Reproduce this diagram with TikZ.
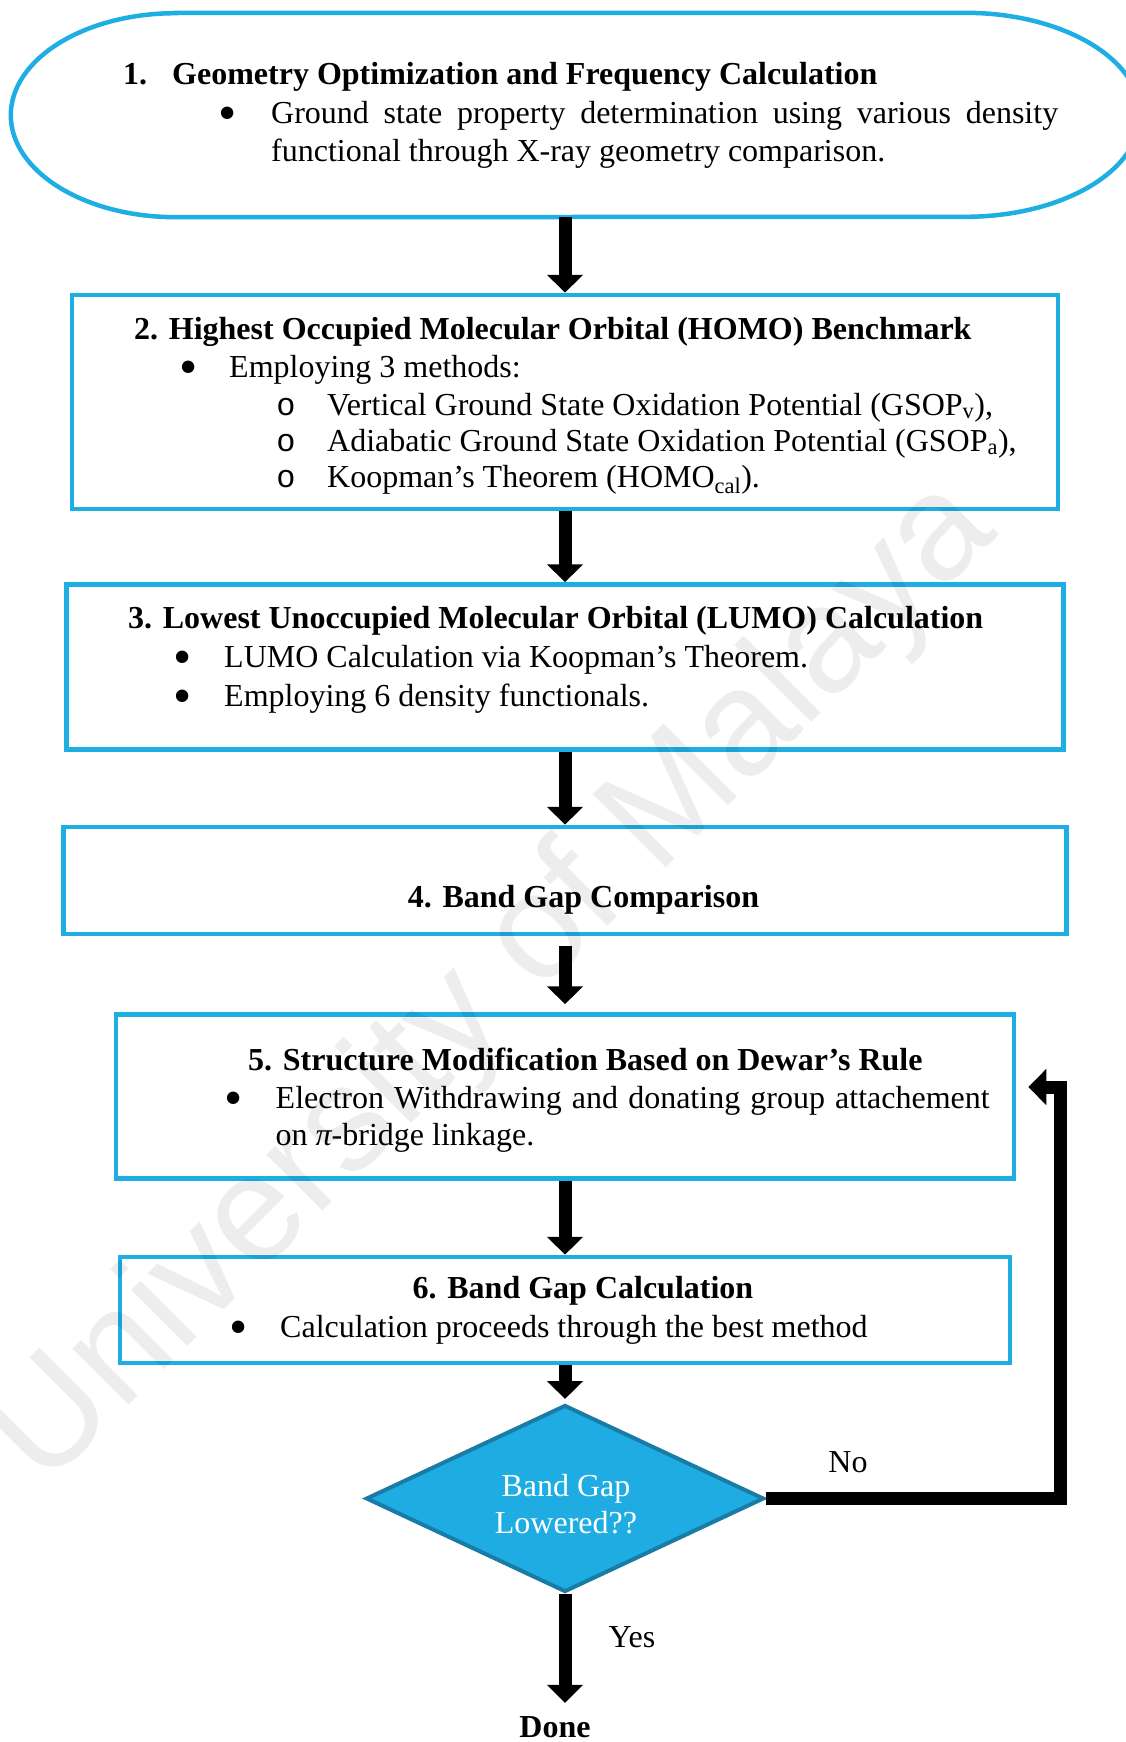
\documentclass[tikz,border=0pt]{standalone}
\usepackage{fontspec}
\setmainfont{Liberation Serif}
\newfontfamily\wmfont{Liberation Sans}
\newfontfamily\ofont{Liberation Mono}
\usetikzlibrary{shapes.geometric,arrows.meta}
\definecolor{boxblue}{RGB}{30,174,228}
\definecolor{diablue}{RGB}{30,172,226}
\definecolor{diaedge}{RGB}{24,124,166}

\begin{document}
\begin{tikzpicture}
    [
    x=1pt, y=-1pt,
    stepbox/.style={rectangle,draw=boxblue,line width=4.5pt,inner sep=0pt},
    outline/.style={draw=boxblue,line width=4.5pt},
    decision/.style={diamond,draw=diaedge,fill=diablue,line width=4pt,inner sep=0pt,aspect=2.13,minimum width=398pt,minimum height=187pt},
    txt/.style={inner sep=0pt,anchor=base west,font=\fontsize{32}{37}\selectfont},
    ttl/.style={txt,font=\fontsize{32}{37}\selectfont\bfseries},
    dot/.style={txt,anchor=base},
    bullet/.style={dot,font=\fontsize{52}{52}\selectfont,yshift=-7pt},
    circ/.style={dot,font=\ofont\fontsize{32}{37}\selectfont},
    flow/.style={line width=13pt,-{Triangle[width=35pt,length=18pt]}}
    ]
    \useasboundingbox (0,0) rectangle (1125,1742);

    \node (step1) at (575.5,115) [inner sep=0pt,minimum width=1129pt,minimum height=204pt] {};
    \draw [outline] ([xshift=165pt]step1.north west) -- ([xshift=-175pt]step1.north east)
        arc [start angle=-90, end angle=90, x radius=175, y radius=102]
        -- ([xshift=165pt]step1.south west)
        arc [start angle=90, end angle=270, x radius=165, y radius=102] -- cycle;
    \node (num1) at (123,85) [ttl] {1.};
    \node (head1) at (172,85) [ttl] {Geometry Optimization and Frequency Calculation};
    \node (dot1) at (228,124) [bullet] {•};
    \node (line1a) at (271,124) [txt] {\makebox[787pt][s]{Ground state property determination using various density}};
    \node (line1b) at (271,161) [txt] {functional through X-ray geometry comparison.};

    \node (step2) at (565,402) [stepbox,minimum width=986pt,minimum height=214pt] {};
    \node (head2) at (134,339) [ttl] {2. Highest Occupied Molecular Orbital (HOMO) Benchmark};
    \node (dot2) at (189,377) [bullet] {•};
    \node (line2a) at (229,377) [txt] {Employing 3 methods:};
    \node (circ2a) at (286,415) [circ] {o};
    \node (line2b) at (327,415) [txt] {Vertical Ground State Oxidation Potential (GSOP\textsubscript{v}),};
    \node (circ2b) at (286,451) [circ] {o};
    \node (line2c) at (327,451) [txt] {Adiabatic Ground State Oxidation Potential (GSOP\textsubscript{a}),};
    \node (circ2c) at (286,487) [circ] {o};
    \node (line2d) at (327,487) [txt] {Koopman’s Theorem (HOMO\textsubscript{cal}).};

    \node (step3) at (565,667) [stepbox,minimum width=997pt,minimum height=165pt] {};
    \node (head3) at (128,628) [ttl] {3. Lowest Unoccupied Molecular Orbital (LUMO) Calculation};
    \node (dot3a) at (183,667) [bullet] {•};
    \node (line3a) at (224,667) [txt] {LUMO Calculation via Koopman’s Theorem.};
    \node (dot3b) at (183,706) [bullet] {•};
    \node (line3b) at (224,706) [txt] {Employing 6 density functionals.};

    \node (step4) at (565,880.5) [stepbox,minimum width=1003pt,minimum height=107pt] {};
    \node (head4) at (583.5,907) [ttl,anchor=base] {4. Band Gap Comparison};

    \node (step5) at (565,1096.5) [stepbox,minimum width=898pt,minimum height=164pt] {};
    \node (head5) at (248,1070) [ttl] {5. Structure Modification Based on Dewar’s Rule};
    \node (dot5) at (233.5,1108) [bullet] {•};
    \node (line5a) at (275.5,1108) [txt] {\makebox[714pt][s]{Electron Withdrawing and donating group attachement}};
    \node (line5b) at (275.5,1145) [txt] {on {\itshape π}-bridge linkage.};

    \node (step6) at (565,1310) [stepbox,minimum width=890pt,minimum height=106pt] {};
    \node (head6) at (583,1298) [ttl,anchor=base] {6. Band Gap Calculation};
    \node (dot6) at (239,1337) [bullet] {•};
    \node (line6) at (280,1337) [txt] {Calculation proceeds through the best method};

    \node (test) at (565,1498.5) [decision] {};
    \node (ask) at (566,1504) [inner sep=0pt,align=center,text=white,font=\fontsize{32}{37}\selectfont] {Band Gap\\Lowered??};
    \node (no) at (848,1472) [dot] {No};
    \node (yes) at (632,1647) [dot] {Yes};
    \node (done) at (555,1737) [dot,font=\fontsize{32}{37}\selectfont\bfseries] {Done};
    \coordinate (turn) at (1060,1087);

    \draw [flow] (step2.north |- step1.south) -- (step2.north);
    \draw [flow] (step2.south) -- (step3.north);
    \draw [flow] (step3.south) -- (step4.north);
    \draw [flow, shorten <=10pt, shorten >=8pt] (step4.south) -- (step5.north);
    \draw [flow] (step5.south) -- (step6.north);
    \draw [flow, shorten >=4pt] (step6.south) -- (test.north);
    \draw [flow, shorten >=13pt] (test.south) -- (test.south |- done.north);
    \draw [flow, shorten >=12pt] (test.east) -| (turn) -- (turn -| step5.east);

    \node (mark) at (522,1012) [rotate=45,anchor=base,inner sep=0pt,font=\wmfont\fontsize{150}{150}\selectfont,text=black,text opacity=0.07] {University of Malaya};
\end{tikzpicture}
\end{document}
